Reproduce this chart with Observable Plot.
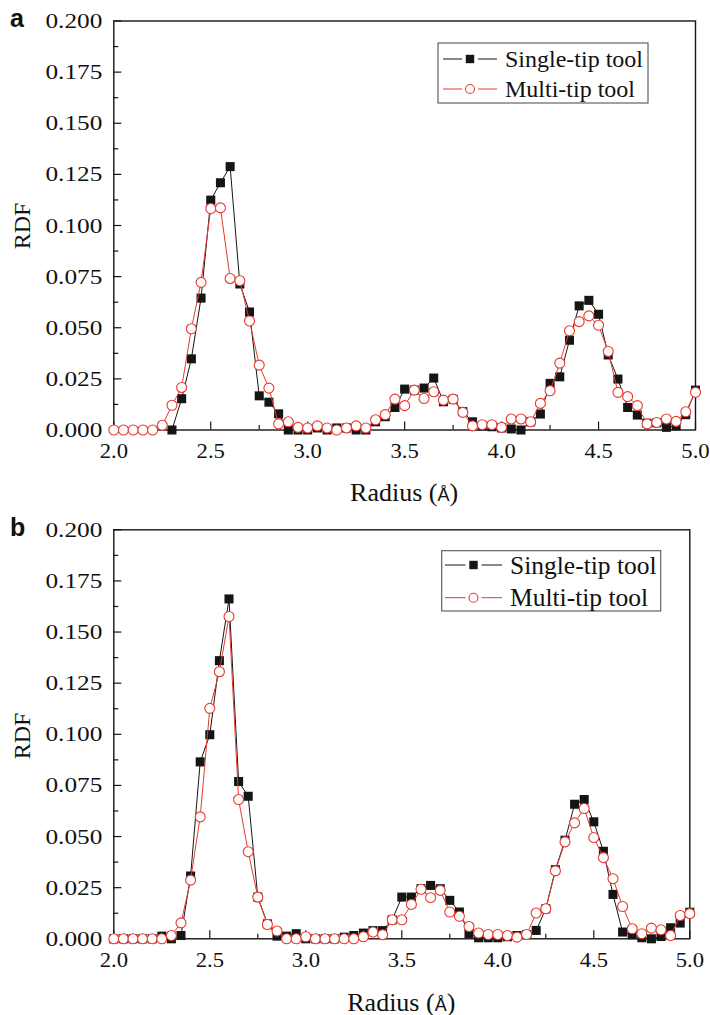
<!DOCTYPE html>
<html><head><meta charset="utf-8">
<script src="https://cdn.jsdelivr.net/npm/d3@7"></script>
<script src="https://cdn.jsdelivr.net/npm/@observablehq/plot@0.6"></script>
<style>
body{margin:0;background:#fff}
#chart{width:710px;height:1015px;position:relative;background:#fff}
#chart svg{display:block}
#chart svg text{font-family:"Liberation Serif","DejaVu Serif","Noto Serif",serif !important}
#chart svg text.sans, #chart svg tspan.sans{font-family:"Liberation Sans","DejaVu Sans",sans-serif !important}
</style>
</head><body><div id="chart"></div>
<script>
// ---- data ----
const radius = [2.00,2.05,2.10,2.15,2.20,2.25,2.30,2.35,2.40,2.45,2.50,2.55,2.60,2.65,2.70,2.75,2.80,2.85,2.90,2.95,
  3.00,3.05,3.10,3.15,3.20,3.25,3.30,3.35,3.40,3.45,3.50,3.55,3.60,3.65,3.70,3.75,3.80,3.85,3.90,3.95,
  4.00,4.05,4.10,4.15,4.20,4.25,4.30,4.35,4.40,4.45,4.50,4.55,4.60,4.65,4.70,4.75,4.80,4.85,4.90,4.95,5.00];

const singleA = [null,null,null,null,null,null,0.000,0.0153,0.0348,0.0645,0.1124,0.1209,0.1288,0.0714,0.0577,0.0167,0.0136,0.0079,0.000,0.000,
  0.000,0.001,0.000,0.001,0.001,0.000,0.000,0.004,0.0065,0.011,0.0200,0.0195,0.0205,0.0254,0.0138,0.0150,0.0090,0.0040,0.0020,0.0016,
  0.001,0.0005,0.000,0.004,0.0078,0.0228,0.0260,0.0439,0.0607,0.0634,0.0566,0.0367,0.0249,0.0110,0.0073,0.0033,0.0035,0.0013,0.0020,0.0075,0.0195];

const multiA = [0,0,0,0,0,0.0023,0.0121,0.0208,0.0495,0.0722,0.1083,0.1086,0.0741,0.0730,0.0533,0.0317,0.0205,0.0030,0.0040,0.0013,
  0.001,0.002,0.001,0.000,0.001,0.002,0.001,0.005,0.0075,0.0151,0.0119,0.0195,0.0154,0.0187,0.0146,0.0151,0.0086,0.0020,0.0026,0.0026,
  0.0013,0.0054,0.0054,0.0040,0.0130,0.0192,0.0327,0.0485,0.0530,0.0558,0.0512,0.0384,0.0184,0.0163,0.0119,0.0030,0.0037,0.0054,0.0042,0.0089,0.0184];

const singleB = [0,0,0,0,0,0.0013,0.000,0.0016,0.0307,0.0865,0.0998,0.1360,0.1662,0.0769,0.0697,0.0204,0.0073,0.0013,0.0013,0.0025,
  0.000,0.000,0.000,0.000,0.0008,0.0016,0.0028,0.0040,0.0040,0.0093,0.0204,0.0204,0.0245,0.0261,0.0245,0.0188,0.0131,0.0025,0.0005,0.0005,
  0.0005,0.0010,0.0016,0.0021,0.0041,0.0147,0.0338,0.0482,0.0658,0.0681,0.0572,0.0428,0.0217,0.0033,0.0020,0.0005,0.000,0.0011,0.0054,0.0077,0.0130];

const multiB = [0,0,0,0,0,0,0.0016,0.0078,0.0287,0.0596,0.1127,0.1306,0.1576,0.0681,0.0426,0.0204,0.0070,0.0038,0.000,0.000,
  0.001,0.000,0.000,0.000,0.000,0.000,0.001,0.0033,0.0020,0.0093,0.0093,0.0168,0.0242,0.0201,0.0237,0.0131,0.0110,0.0060,0.0028,0.0021,
  0.0021,0.0016,0.0008,0.0021,0.0126,0.0147,0.0332,0.0474,0.0567,0.0637,0.0495,0.0397,0.0294,0.0158,0.0049,0.0025,0.0052,0.0044,0.0016,0.0114,0.0123];

const xTickValues = [2.0,2.5,3.0,3.5,4.0,4.5,5.0];
const xMinorValues = [2.25,2.75,3.25,3.75,4.25,4.75];
const yTickValues = [0,0.025,0.05,0.075,0.1,0.125,0.15,0.175,0.2];
const yMinorValues = [0.0125,0.0375,0.0625,0.0875,0.1125,0.1375,0.1625,0.1875];
const seriesNames = ["Single-tip tool","Multi-tip tool"];
const panelLabels = ["a","b"];
const xTitle = "Radius";
const yTitle = "RDF";

const BLACK = "#151515", RED = "#e8392e";
const SERIF = "Liberation Serif, DejaVu Serif, serif";

function rows(vals){ return radius.map((r,i)=>({r, v: vals[i]})).filter(d=>d.v!=null); }

function panel(cfg){
  const innerH = cfg.height - cfg.mt - cfg.mb;
  const innerW = 710 - cfg.ml - cfg.mr;
  const s = rows(cfg.single), m = rows(cfg.multi);
  const svg = Plot.plot({
    width: 710, height: cfg.height,
    marginTop: cfg.mt, marginBottom: cfg.mb, marginLeft: cfg.ml, marginRight: cfg.mr,
    style: {fontFamily: SERIF, fontSize: "21px", background: "#fff", color: "#111", overflow: "visible"},
    x: {domain: [2, 5]},
    y: {domain: [0, 0.2]},
    marks: [
      Plot.frame({stroke: BLACK, strokeWidth: 1.4}),
      Plot.tickX(xTickValues, {x: d=>d, insetTop: innerH - 8, stroke: BLACK, strokeWidth: 1.2}),
      Plot.tickX(xMinorValues, {x: d=>d, insetTop: innerH - 4.5, stroke: BLACK, strokeWidth: 1.2}),
      Plot.tickY(yTickValues, {y: d=>d, insetRight: innerW - 8, stroke: BLACK, strokeWidth: 1.2}),
      Plot.tickY(yMinorValues, {y: d=>d, insetRight: innerW - 5, stroke: BLACK, strokeWidth: 1.2}),
      Plot.axisX({ticks: xTickValues, tickSize: 0, tickPadding: 13, tickFormat: d3.format(".1f"), label: null, fontSize: 21}),
      Plot.axisY({ticks: yTickValues, tickSize: 0, tickPadding: 11.5, tickFormat: d3.format(".3f"), label: null, fontSize: 22}),
      Plot.line(s, {x: "r", y: "v", stroke: BLACK, strokeWidth: 1}),
      Plot.dot(s, {x: "r", y: "v", symbol: "square", fill: BLACK, stroke: "none", r: 5.1}),
      Plot.line(m, {x: "r", y: "v", stroke: RED, strokeWidth: 1}),
      Plot.dot(m, {x: "r", y: "v", symbol: "circle", fill: "white", stroke: RED, strokeWidth: 1.1, r: 5})
    ]
  });
  function stretch(sel, k){
    svg.querySelectorAll(sel).forEach(t=>{
      const tr = t.getAttribute("transform");
      if (tr) t.setAttribute("transform", tr + ` scale(${k},1)`);
      else {
        const x = +t.getAttribute("x")||0, y = +t.getAttribute("y")||0;
        t.removeAttribute("x"); t.removeAttribute("y");
        t.setAttribute("transform", `translate(${x},${y}) scale(${k},1)`);
      }
    });
  }
  stretch('[aria-label="y-axis tick label"] text', 1.15);
  stretch('[aria-label="x-axis tick label"] text', 1.08);

  const g = d3.select(svg).append("g").attr("text-anchor", "start");
  g.append("text").attr("class", "sans").attr("x", 10).attr("y", cfg.letterY)
    .attr("font-weight", "bold").attr("font-size", 25).attr("fill", "#111").text(cfg.letter);
  g.append("text").attr("transform", `translate(30,${cfg.rdfY}) rotate(-90)`)
    .attr("text-anchor", "middle").attr("font-size", 24).attr("fill", "#111").text(yTitle);
  const xt = g.append("text").attr("x", cfg.ml + innerW/2).attr("y", cfg.radY)
    .attr("text-anchor", "middle").attr("font-size", 26).attr("fill", "#111");
  xt.append("tspan").text(xTitle + " (");
  xt.append("tspan").attr("class", "sans").attr("font-size", 18).text("Å");
  xt.append("tspan").text(")");
  const L = cfg.legend;
  g.append("rect").attr("x", L.x).attr("y", L.y).attr("width", L.w).attr("height", L.h)
    .attr("fill", "white").attr("stroke", "#555").attr("stroke-width", 1.1);
  const colors = [BLACK, RED];
  seriesNames.forEach((name, i)=>{
    const cy = L.rows[i];
    const mx = (L.lx0 + L.lx1)/2;
    g.append("line").attr("x1", L.lx0).attr("x2", mx - 8).attr("y1", cy).attr("y2", cy).attr("stroke", colors[i]).attr("stroke-width", 1);
    g.append("line").attr("x1", mx + 8).attr("x2", L.lx1).attr("y1", cy).attr("y2", cy).attr("stroke", colors[i]).attr("stroke-width", 1);
    if (i === 0) g.append("rect").attr("x", mx - 4.2).attr("y", cy - 4.2).attr("width", 8.4).attr("height", 8.4).attr("fill", BLACK);
    else g.append("circle").attr("cx", mx).attr("cy", cy).attr("r", 4.5).attr("fill", "white").attr("stroke", RED).attr("stroke-width", 1.1);
    g.append("text").attr("x", L.tx).attr("y", cy + L.fs*0.34).attr("text-anchor", "start").attr("font-size", L.fs)
      .attr("fill", "#111").text(name);
  });
  return svg;
}

const chart = document.getElementById("chart");
chart.appendChild(panel({
  letter: panelLabels[0], single: singleA, multi: multiA,
  height: 507, mt: 20.5, mb: 77.5, ml: 113.3, mr: 15,
  letterY: 27, rdfY: 226, radY: 501,
  legend: {x: 438, y: 43, w: 210, h: 60, rows: [59, 89], lx0: 443, lx1: 497, tx: 505, fs: 24}
}));
chart.appendChild(panel({
  letter: panelLabels[1], single: singleB, multi: multiB,
  height: 508, mt: 22.3, mb: 76.7, ml: 113.3, mr: 20.7,
  letterY: 29, rdfY: 229, radY: 504,
  legend: {x: 441.7, y: 43.7, w: 219, h: 60.3, rows: [58, 90.7], lx0: 445, lx1: 502, tx: 510, fs: 25.5}
}));
</script>
</body></html>
